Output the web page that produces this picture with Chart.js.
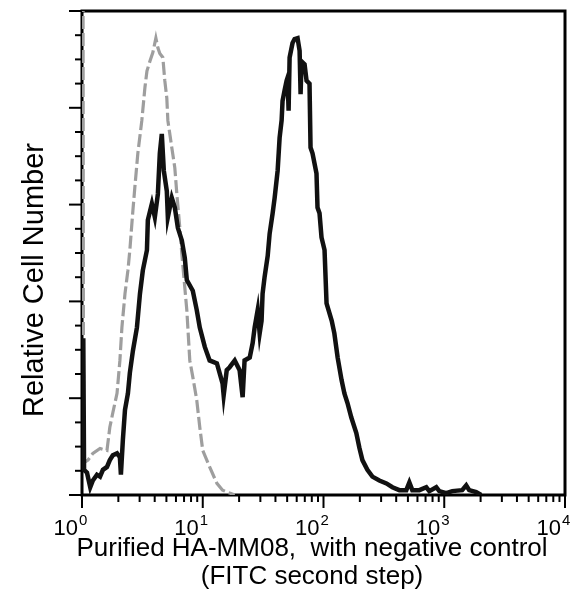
<!DOCTYPE html>
<html>
<head>
<meta charset="utf-8">
<script src="https://cdn.jsdelivr.net/npm/chart.js@4.4.1/dist/chart.umd.min.js"></script>
<style>
  html, body { margin: 0; padding: 0; background: #fff; }
  #wrap { width: 580px; height: 597px; position: relative; }
</style>
</head>
<body>
<div id="wrap"><canvas id="histChart"></canvas></div>
<script>
// x axis: log decades, label base and exponent
const decades = [1, 10, 100, 1000, 10000];
const decadeExp = ["0", "1", "2", "3", "4"];
const yMax = 5;

// negative control (grey, dashed)
const ctrlX = [1.02, 1.03, 1.12, 1.23, 1.41, 1.61, 1.70, 1.80, 1.95, 2.06,
  2.14, 2.27, 2.40, 2.49, 2.64, 2.74, 2.90, 3.13, 3.32, 3.45,
  3.65, 3.86, 4.09, 4.25, 4.41, 4.67, 4.85, 5.04, 5.14, 5.54,
  5.87, 6.10, 6.46, 6.71, 7.38, 7.81, 8.27, 8.92, 9.45, 10.0,
  11.4, 13.1, 14.6, 16.7, 18.4];
const ctrlY = [5.3, 0.33, 0.36, 0.43, 0.48, 0.46, 0.70, 0.85, 1.05, 1.39,
  1.73, 2.08, 2.32, 2.53, 2.94, 3.18, 3.53, 3.87, 4.21, 4.38,
  4.48, 4.57, 4.72, 4.62, 4.56, 4.52, 4.28, 4.10, 3.87, 3.59,
  3.38, 3.11, 2.76, 2.49, 1.91, 1.39, 1.22, 0.98, 0.70, 0.46,
  0.29, 0.12, 0.05, 0.02, 0];

// purified HA-MM08 (black)
const sampleX = [1.025, 1.04, 1.10, 1.17, 1.23, 1.33, 1.41, 1.49, 1.61, 1.70,
  1.80, 1.95, 2.06, 2.10, 2.18, 2.27, 2.40, 2.49, 2.64, 2.85,
  3.02, 3.19, 3.45, 3.51, 3.79, 4.01, 4.25, 4.41, 4.58, 4.76,
  5.04, 5.14, 5.54, 5.87, 6.22, 6.71, 7.10, 7.38, 8.27, 8.92,
  9.45, 10.4, 11.4, 13.1, 14.6, 14.9, 15.8, 16.7, 18.4, 20.2,
  21.4, 22.2, 24.5, 25.9, 26.9, 28.5, 29.6, 30.7, 31.3, 32.5,
  34.5, 35.8, 37.9, 39.4, 41.7, 43.3, 45.0, 45.8, 47.6, 49.5,
  50.4, 51.4, 52.4, 55.4, 57.6, 61.0, 63.4, 64.6, 65.8, 69.7,
  72.4, 76.6, 78.1, 81.1, 87.5, 89.2, 92.7, 96.3, 102, 106,
  117, 123, 131, 141, 149, 158, 170, 187, 198, 210,
  231, 254, 290, 332, 372, 425, 485, 514, 544, 622,
  710, 752, 859, 909, 1039, 1165, 1408, 1520, 1609, 1839,
  2022];
const sampleY = [1.62, 0.26, 0.23, 0.08, 0.15, 0.21, 0.19, 0.26, 0.29, 0.36,
  0.41, 0.43, 0.39, 0.21, 0.57, 0.88, 1.05, 1.26, 1.49, 1.73,
  2.08, 2.32, 2.53, 2.84, 3.01, 2.87, 3.11, 3.53, 3.73, 3.35,
  3.14, 2.87, 3.07, 2.97, 2.76, 2.63, 2.45, 2.22, 2.11, 1.91,
  1.73, 1.53, 1.39, 1.36, 1.15, 1.03, 1.29, 1.32, 1.39, 1.29,
  1.01, 1.39, 1.42, 1.57, 1.73, 1.91, 1.67, 1.80, 2.08, 2.25,
  2.47, 2.70, 2.91, 3.07, 3.35, 3.69, 3.87, 4.07, 4.18, 4.28,
  4.31, 3.97, 4.52, 4.67, 4.71, 4.72, 4.59, 4.14, 4.48, 4.45,
  4.28, 4.25, 3.59, 3.53, 3.32, 2.97, 2.91, 2.66, 2.53, 1.98,
  1.80, 1.67, 1.42, 1.19, 1.05, 0.95, 0.80, 0.64, 0.49, 0.36,
  0.26, 0.19, 0.15, 0.12, 0.08, 0.05, 0.05, 0.13, 0.05, 0.05,
  0.08, 0.04, 0.08, 0.04, 0.02, 0.04, 0.05, 0.10, 0.05, 0.03,
  0];

const FONT = "'Liberation Sans', Arial, Helvetica, sans-serif";

function seg(ctx, x1, y1, x2, y2) {
  ctx.beginPath();
  ctx.moveTo(x1, y1);
  ctx.lineTo(x2, y2);
  ctx.stroke();
}

// frame, tick marks, decade labels and axis titles
const frameAndTitles = {
  id: "frameAndTitles",
  beforeDatasetsDraw(chart) {
    const { ctx, chartArea: a, scales: { x, y } } = chart;
    ctx.save();
    ctx.strokeStyle = "#000";
    ctx.lineWidth = 2;

    for (let e = 0; e < decades.length - 1; e++) {
      for (let m = 1; m < 10; m++) {
        const px = x.getPixelForValue(m * decades[e]);
        seg(ctx, px, a.bottom, px, a.bottom + (m === 1 ? 13 : 7));
      }
    }
    const last = x.getPixelForValue(decades[decades.length - 1]);
    seg(ctx, last, a.bottom, last, a.bottom + 13);

    for (let i = 0; i <= yMax * 4; i++) {
      const py = y.getPixelForValue(i / 4);
      seg(ctx, a.left - (i % 4 === 0 ? 13 : 7), py, a.left, py);
    }

    ctx.lineWidth = 3;
    ctx.strokeRect(a.left, a.top, a.right - a.left, a.bottom - a.top);

    ctx.fillStyle = "#000";
    ctx.textBaseline = "alphabetic";
    decades.forEach((v, i) => {
      const px = x.getPixelForValue(v);
      ctx.textAlign = "right";
      ctx.font = "22px " + FONT;
      ctx.fillText("10", px - 4, 535);
      ctx.textAlign = "left";
      ctx.font = "15px " + FONT;
      ctx.fillText(decadeExp[i], px - 3, 525);
    });

    ctx.textAlign = "center";
    ctx.font = "26px " + FONT;
    ctx.fillText("Purified HA-MM08,  with negative control", 312, 556);
    ctx.fillText("(FITC second step)", 312, 584);

    ctx.translate(43, 280);
    ctx.rotate(-Math.PI / 2);
    ctx.font = "29px " + FONT;
    ctx.fillText("Relative Cell Number", 0, 0);
    ctx.restore();
  }
};

new Chart(document.getElementById("histChart"), {
  type: "line",
  data: {
    datasets: [
      {
        label: "Purified HA-MM08",
        data: sampleX.map((v, i) => ({ x: v, y: sampleY[i] })),
        borderColor: "#111",
        borderWidth: 4.5,
        pointRadius: 0,
        tension: 0
      },
      {
        label: "Negative control",
        data: ctrlX.map((v, i) => ({ x: v, y: ctrlY[i] })),
        borderColor: "#9e9e9e",
        borderWidth: 3.2,
        borderDash: [13, 4],
        pointRadius: 0,
        tension: 0
      }
    ]
  },
  options: {
    responsive: true,
    maintainAspectRatio: false,
    animation: false,
    layout: { padding: { top: 11, right: 15 } },
    plugins: { legend: { display: false }, tooltip: { enabled: false } },
    scales: {
      x: {
        type: "logarithmic",
        min: 1,
        max: 10000,
        afterBuildTicks: s => { s.ticks = decades.map(v => ({ value: v })); },
        afterFit: s => { s.height = 102; s.paddingLeft = 0; s.paddingRight = 0; },
        grid: { display: false, drawTicks: false },
        border: { display: false },
        ticks: { display: false }
      },
      y: {
        min: 0,
        max: yMax,
        afterFit: s => { s.width = 82; s.paddingTop = 0; s.paddingBottom = 0; },
        grid: { display: false, drawTicks: false },
        border: { display: false },
        ticks: { display: false }
      }
    }
  },
  plugins: [frameAndTitles]
});
</script>
</body>
</html>
